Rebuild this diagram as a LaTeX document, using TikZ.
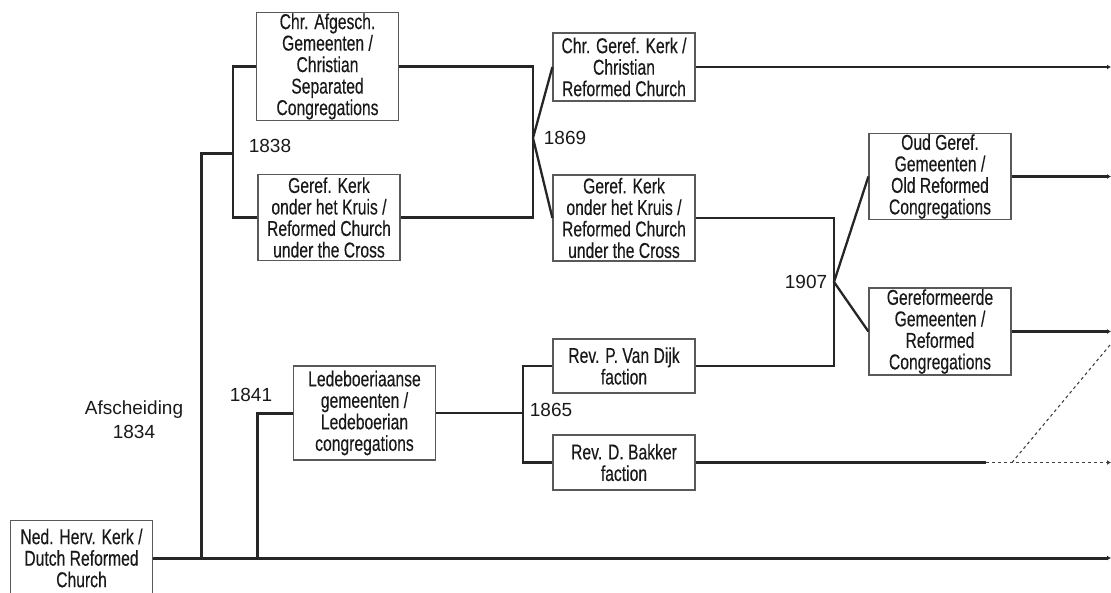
\documentclass[tikz,border=0pt]{standalone}
\usepackage{fontspec}
\setmainfont{Liberation Sans}
\newfontfamily\narrowfont[FakeStretch=0.73,FakeBold=0.3]{Liberation Sans}
\usetikzlibrary{arrows.meta}

\begin{document}
\begin{tikzpicture}[x=1pt,y=-1pt,
            church node/.style={draw=black!65,line width=1.2pt,fill=white,align=center,
                minimum width=142pt,inner sep=1pt,text=black!90,
                font=\narrowfont\fontsize{21.5}{21.5}\selectfont},
            year node/.style={text=black!90,align=center,font=\fontsize{19}{24}\selectfont},
            branch/.style={line width=2.3pt,draw=black!85},
            trunk/.style={line width=3pt,draw=black!85},
            faded/.style={line width=1.1pt,draw=black!75,dashed},
            onward/.style={-{Latex[length=4pt,width=5pt]}}]

        \useasboundingbox (0,0) rectangle (1111,592);

        % Churches
        \node[church node,minimum height=75pt] (ned) at (81.5,558) {Ned. Herv. Kerk /\\Dutch Reformed\\Church};
        \node[church node,minimum height=107pt] (afg) at (327.5,66.5) {Chr. Afgesch.\\Gemeenten /\\Christian\\Separated\\Congregations};
        \node[church node,minimum height=86pt] (kruisA) at (329,217.5) {Geref. Kerk\\onder het Kruis /\\Reformed Church\\under the Cross};
        \node[church node,minimum height=68pt] (cgk) at (624,67) {Chr. Geref. Kerk /\\Christian\\Reformed Church};
        \node[church node,minimum height=86pt] (kruisB) at (624,218) {Geref. Kerk\\onder het Kruis /\\Reformed Church\\under the Cross};
        \node[church node,minimum height=85pt] (oud) at (940,176.5) {Oud Geref.\\Gemeenten /\\Old Reformed\\Congregations};
        \node[church node,minimum height=87pt] (gg) at (940,331.5) {Gereformeerde\\Gemeenten /\\Reformed\\Congregations};
        \node[church node,minimum height=94pt] (ledeb) at (364.5,413) {Ledeboeriaanse\\gemeenten /\\Ledeboerian\\congregations};
        \node[church node,minimum height=54pt] (vandijk) at (624,366) {Rev. P. Van Dijk\\faction};
        \node[church node,minimum height=55pt] (bakker) at (624,462.5) {Rev. D. Bakker\\faction};

        % Years
        \node[year node] (y1834) at (134,420) {Afscheiding\\1834};
        \node[year node] (y1838) at (270,146) {1838};
        \node[year node] (y1869) at (565,138) {1869};
        \node[year node] (y1907) at (806,282) {1907};
        \node[year node] (y1841) at (251,395) {1841};
        \node[year node] (y1865) at (551,410) {1865};

        % Split points
        \coordinate (rim) at (1111,0);
        \coordinate (b1834) at (201,558);
        \coordinate (f1838) at (233,153);
        \coordinate (m1869) at (533,138);
        \coordinate (m1907) at (834,282);
        \coordinate (b1841) at (257,558);
        \coordinate (m1865) at (523,413);
        \coordinate (fade) at (986,462.5);
        \coordinate (merge) at (1012,462.5);
        \coordinate (rejoin) at (1110,345);

        % Lines
        \draw[trunk,onward] (ned.east) -- (ned.east -| rim);
        \draw[trunk] (b1834) |- (f1838);
        \draw[branch] (afg.west) -| (f1838) |- (kruisA.west);
        \draw[branch] (afg.east) -| (m1869) |- (kruisA.east);
        \draw[branch] (cgk.west) -- (m1869) -- (kruisB.west);
        \draw[branch,onward] (cgk.east) -- (cgk.east -| rim);
        \draw[branch] (kruisB.east) -| (m1907) |- (vandijk.east);
        \draw[branch] (oud.west) -- (m1907) -- (gg.west);
        \draw[branch,onward] (oud.east) -- (oud.east -| rim);
        \draw[branch,onward] (gg.east) -- (gg.east -| rim);
        \draw[trunk] (b1841) |- (ledeb.west);
        \draw[branch] (ledeb.east) -- (m1865);
        \draw[branch] (vandijk.west) -| (m1865) |- (bakker.west);
        \draw[branch] (bakker.east) -- (fade);
        \draw[faded,onward] (fade) -- (fade -| rim);
        \draw[faded] (merge) -- (rejoin);

        \end{tikzpicture}
\end{document}
